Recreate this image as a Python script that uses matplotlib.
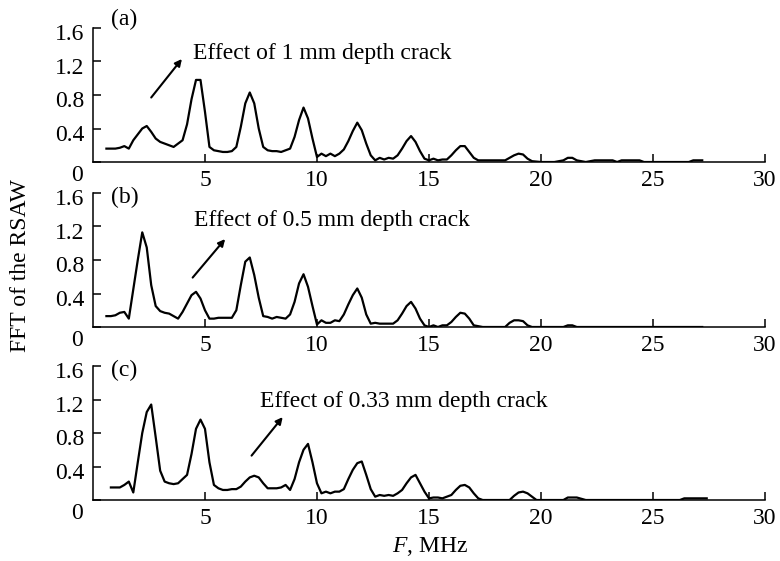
import matplotlib
matplotlib.use("Agg")
import matplotlib.pyplot as plt
from matplotlib.transforms import ScaledTranslation

plt.rcParams['font.family'] = ['Liberation Serif', 'DejaVu Serif']
plt.rcParams['mathtext.fontset'] = 'custom'
plt.rcParams['mathtext.it'] = 'Liberation Serif:italic'
plt.rcParams['mathtext.rm'] = 'Liberation Serif'

# Spectrum samples (F in MHz, amplitude)
f_a = [0.6, 0.8, 1.0, 1.2, 1.4, 1.6, 1.8, 2.0, 2.2, 2.4, 2.6, 2.8, 3.0, 3.2, 3.4, 3.6, 3.8, 4.0,
       4.2, 4.4, 4.6, 4.8, 5.0, 5.2, 5.4, 5.6, 5.8, 6.0, 6.2, 6.4, 6.6, 6.8, 7.0, 7.2, 7.4, 7.6,
       7.8, 8.0, 8.2, 8.4, 8.6, 8.8, 9.0, 9.2, 9.4, 9.6, 9.8, 10.0, 10.2, 10.4, 10.6, 10.8, 11.0,
       11.2, 11.4, 11.6, 11.8, 12.0, 12.2, 12.4, 12.6, 12.8, 13.0, 13.2, 13.4, 13.6, 13.8, 14.0,
       14.2, 14.4, 14.6, 14.8, 15.0, 15.2, 15.4, 15.6, 15.8, 16.0, 16.2, 16.4, 16.6, 16.8, 17.0,
       17.2, 17.6, 18.0, 18.4, 18.6, 18.8, 19.0, 19.2, 19.4, 19.6, 20.0, 20.6, 21.0, 21.2, 21.4,
       21.6, 22.0, 22.4, 22.8, 23.2, 23.4, 23.6, 24.0, 24.4, 24.6, 26.6, 26.8, 27.2]
amp_a = [0.16, 0.16, 0.16, 0.17, 0.19, 0.16, 0.26, 0.33, 0.40, 0.43, 0.36, 0.28, 0.24, 0.22, 0.20, 0.18, 0.22, 0.26,
         0.45, 0.75, 0.98, 0.98, 0.60, 0.18, 0.14, 0.13, 0.12, 0.12, 0.13, 0.18, 0.42, 0.70, 0.83, 0.70, 0.40, 0.18,
         0.14, 0.13, 0.13, 0.12, 0.14, 0.16, 0.30, 0.50, 0.65, 0.52, 0.28, 0.06, 0.10, 0.07, 0.10, 0.07, 0.10,
         0.15, 0.25, 0.37, 0.47, 0.38, 0.22, 0.08, 0.02, 0.05, 0.03, 0.05, 0.04, 0.08, 0.16, 0.25,
         0.31, 0.24, 0.13, 0.04, 0.02, 0.04, 0.02, 0.03, 0.03, 0.08, 0.14, 0.19, 0.19, 0.12, 0.05,
         0.02, 0.02, 0.02, 0.02, 0.05, 0.08, 0.10, 0.09, 0.04, 0.01, 0.0, 0.0, 0.02, 0.05, 0.05,
         0.02, 0.0, 0.02, 0.02, 0.02, 0.0, 0.02, 0.02, 0.02, 0.0, 0.0, 0.02, 0.02]

f_b = [0.6, 0.8, 1.0, 1.2, 1.4, 1.6, 1.8, 2.0, 2.2, 2.4, 2.6, 2.8, 3.0, 3.2, 3.4, 3.6, 3.8, 4.0,
       4.2, 4.4, 4.6, 4.8, 5.0, 5.2, 5.4, 5.6, 5.8, 6.0, 6.2, 6.4, 6.6, 6.8, 7.0, 7.2, 7.4, 7.6,
       7.8, 8.0, 8.2, 8.4, 8.6, 8.8, 9.0, 9.2, 9.4, 9.6, 9.8, 10.0, 10.2, 10.4, 10.6, 10.8, 11.0,
       11.2, 11.4, 11.6, 11.8, 12.0, 12.2, 12.4, 12.6, 12.8, 13.0, 13.2, 13.4, 13.6, 13.8, 14.0,
       14.2, 14.4, 14.6, 14.8, 15.0, 15.2, 15.4, 15.6, 15.8, 16.0, 16.2, 16.4, 16.6, 16.8, 17.0,
       17.4, 18.4, 18.6, 18.8, 19.0, 19.2, 19.4, 19.6, 21.0, 21.2, 21.4, 21.6, 27.2]
amp_b = [0.13, 0.13, 0.14, 0.17, 0.18, 0.10, 0.45, 0.80, 1.13, 0.95, 0.50, 0.25, 0.19, 0.17, 0.16, 0.13, 0.10, 0.18,
         0.28, 0.38, 0.42, 0.34, 0.20, 0.10, 0.10, 0.11, 0.11, 0.11, 0.11, 0.20, 0.50, 0.78, 0.83, 0.62, 0.35, 0.13,
         0.12, 0.10, 0.12, 0.11, 0.10, 0.15, 0.30, 0.52, 0.63, 0.48, 0.25, 0.03, 0.08, 0.05, 0.05, 0.08, 0.07,
         0.15, 0.27, 0.38, 0.46, 0.35, 0.15, 0.04, 0.05, 0.04, 0.04, 0.04, 0.04, 0.08, 0.16, 0.25,
         0.30, 0.22, 0.10, 0.02, 0.0, 0.02, 0.0, 0.02, 0.02, 0.06, 0.12, 0.17, 0.16, 0.10, 0.02,
         0.0, 0.0, 0.05, 0.08, 0.08, 0.07, 0.02, 0.0, 0.0, 0.02, 0.02, 0.0, 0.0]

f_c = [0.8, 1.0, 1.2, 1.4, 1.6, 1.8, 2.0, 2.2, 2.4, 2.6, 2.8, 3.0, 3.2, 3.4, 3.6, 3.8, 4.0,
       4.2, 4.4, 4.6, 4.8, 5.0, 5.2, 5.4, 5.6, 5.8, 6.0, 6.2, 6.4, 6.6, 6.8, 7.0, 7.2, 7.4, 7.6,
       7.8, 8.0, 8.2, 8.4, 8.6, 8.8, 9.0, 9.2, 9.4, 9.6, 9.8, 10.0, 10.2, 10.4, 10.6, 10.8, 11.0,
       11.2, 11.4, 11.6, 11.8, 12.0, 12.2, 12.4, 12.6, 12.8, 13.0, 13.2, 13.4, 13.6, 13.8, 14.0,
       14.2, 14.4, 14.6, 14.8, 15.0, 15.2, 15.4, 15.6, 15.8, 16.0, 16.2, 16.4, 16.6, 16.8, 17.0,
       17.2, 17.4, 18.6, 18.8, 19.0, 19.2, 19.4, 19.6, 19.8, 21.0, 21.2, 21.6, 22.0, 26.2, 26.4, 27.4]
amp_c = [0.15, 0.15, 0.15, 0.18, 0.22, 0.09, 0.45, 0.80, 1.05, 1.14, 0.75, 0.35, 0.22, 0.20, 0.19, 0.20, 0.25,
         0.30, 0.55, 0.85, 0.96, 0.85, 0.45, 0.18, 0.14, 0.12, 0.12, 0.13, 0.13, 0.16, 0.22, 0.27, 0.29, 0.27, 0.20,
         0.14, 0.14, 0.14, 0.15, 0.18, 0.12, 0.25, 0.45, 0.60, 0.67, 0.45, 0.20, 0.08, 0.10, 0.08, 0.10, 0.10,
         0.13, 0.25, 0.36, 0.44, 0.46, 0.30, 0.13, 0.04, 0.06, 0.05, 0.06, 0.05, 0.08, 0.12, 0.20,
         0.27, 0.30, 0.20, 0.10, 0.02, 0.03, 0.03, 0.02, 0.04, 0.06, 0.12, 0.17, 0.18, 0.15, 0.08,
         0.02, 0.0, 0.0, 0.05, 0.09, 0.10, 0.08, 0.04, 0.0, 0.0, 0.03, 0.03, 0.0, 0.0, 0.02, 0.02]

panels = ['(a)', '(b)', '(c)']
notes = ['Effect of 1 mm depth crack', 'Effect of 0.5 mm depth crack', 'Effect of 0.33 mm depth crack']
freqs = [f_a, f_b, f_c]
amps = [amp_a, amp_b, amp_c]

# arrow tail, arrow head, text position (data coords)
arrow_tail = [(2.6, 0.77), (4.45, 0.59), (7.08, 0.53)]
arrow_head = [(3.97, 1.23), (5.9, 1.05), (8.47, 0.99)]
note_pos = [(4.45, 1.29), (4.5, 1.27), (7.45, 1.18)]
tag_y = [1.70, 1.55, 1.55]

bottoms = [0.7112, 0.4171, 0.1087]

fig = plt.figure(figsize=(7.8, 5.61), dpi=100)
fs = 17

for i in range(3):
    ax = fig.add_axes([0.1192, bottoms[i], 0.8615, 0.2389])
    ax.plot(freqs[i], amps[i], color='black', lw=1.6)
    ax.set_xlim(0, 30)
    ax.set_ylim(0, 1.6)
    ax.spines['top'].set_visible(False)
    ax.spines['right'].set_visible(False)
    ax.spines['left'].set_linewidth(1.1)
    ax.spines['bottom'].set_linewidth(1.1)
    ax.set_xticks([5, 10, 15, 20, 25, 30])
    ax.set_yticks([0, 0.4, 0.8, 1.2, 1.6])
    ax.set_yticklabels(['', '0.4', '0.8', '1.2', '1.6'])
    ax.tick_params(direction='in', length=6, width=1.1, labelsize=fs)
    ax.tick_params(axis='x', pad=6)
    ax.tick_params(axis='y', pad=6)
    for lab in ax.get_yticklabels():
        lab.set_transform(lab.get_transform() + ScaledTranslation(0, -3 / 72, fig.dpi_scale_trans))
    ax.annotate('0', xy=(0, 0), xytext=(-7, -2), textcoords='offset points',
                ha='right', va='top', fontsize=fs)
    ax.text(0.8, tag_y[i], panels[i], fontsize=fs, ha='left', va='center')
    ax.annotate('', xy=arrow_head[i], xytext=arrow_tail[i],
                arrowprops=dict(arrowstyle='-|>', color='black', lw=1.5,
                                mutation_scale=10, shrinkA=0, shrinkB=0))
    ax.text(note_pos[i][0], note_pos[i][1], notes[i], fontsize=fs, ha='left', va='center')

fig.text(0.026, 0.527, 'FFT of the RSAW', rotation=90, ha='center', va='center', fontsize=fs)
fig.text(0.551, 0.025, '$F$, MHz', ha='center', va='center', fontsize=fs)

fig.savefig('out.png', dpi=100)
